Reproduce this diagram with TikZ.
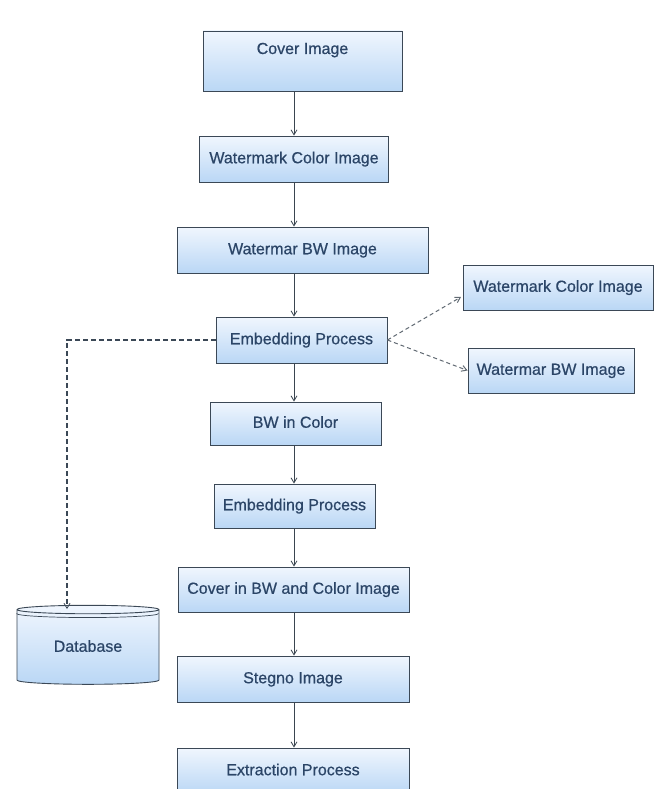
\documentclass[tikz,border=0pt]{standalone}
\usepackage{fontspec}
\setmainfont{Liberation Sans}
\newfontfamily\scritta[FakeBold=0.6]{Liberation Sans}
\usetikzlibrary{arrows.meta,shapes.geometric}
\definecolor{bordo}{HTML}{3B4856}
\definecolor{testo}{HTML}{2B4567}
\definecolor{cima}{HTML}{F0F6FE}
\definecolor{fondo}{HTML}{BAD7F5}
\definecolor{freccia}{HTML}{3A4550}
\tikzset{
  blocco/.style={draw=bordo, line width=0.9pt, top color=cima, bottom color=fondo,
    text=testo, font=\scritta\fontsize{16}{18}\selectfont, inner xsep=1pt, inner ysep=0pt,
    text height=11.5pt, text depth=3pt},
  flusso/.style={draw=freccia, line width=0.8pt, -{Straight Barb[length=5pt,width=6pt]}},
  tratto/.style={draw=bordo, line width=1.6pt, dash pattern=on 5pt off 3pt,
    -{Straight Barb[length=5pt,width=6pt,line width=0.8pt]}},
  trattino/.style={draw=freccia!80, line width=1pt, dash pattern=on 4pt off 3pt,
    -{Straight Barb[length=5pt,width=6pt]}}
}
\begin{document}
\begin{tikzpicture}[x=1pt,y=-1pt]
        \useasboundingbox[fill=white] (0,0) rectangle (657,789);
        %colonna centrale
        \node[blocco, minimum width=199pt, minimum height=60pt, text height=19pt, text depth=33pt] (cover) at (302.5,61) {Cover Image};
        \node[blocco, minimum width=189pt, minimum height=46pt] (wmcolor) at (294,159) {Watermark Color Image};
        \node[blocco, minimum width=251pt, minimum height=46pt] (wmbw) at (302.5,250) {Watermar BW Image};
        \node[blocco, minimum width=171pt, minimum height=46pt] (embed) at (301.5,340) {Embedding Process};
        \node[blocco, minimum width=171pt, minimum height=43pt] (bwcolor) at (295.5,423.5) {BW in Color};
        \node[blocco, minimum width=161pt, minimum height=44pt] (embedb) at (294.5,506) {Embedding Process};
        \node[blocco, minimum width=231pt, minimum height=45pt] (coverbw) at (293.5,589.5) {Cover in BW and Color Image};
        \node[blocco, minimum width=232pt, minimum height=46pt] (stegno) at (293,679) {Stegno Image};
        \node[blocco, minimum width=232pt, minimum height=46pt] (extract) at (293,771) {Extraction Process};
        %blocchi a destra
        \node[blocco, minimum width=190pt, minimum height=45pt] (wmcolorr) at (558,287.5) {Watermark Color Image};
        \node[blocco, minimum width=166pt, minimum height=45pt] (wmbwr) at (551,370.5) {Watermar BW Image};
        %database
        \node[blocco, cylinder, shape border rotate=90, aspect=0.12, minimum width=142pt, minimum height=79pt,
          text height=11.5pt, text depth=3pt] (db) at (88,647.5) {Database};
        \draw[bordo, line width=0.7pt] ([yshift=-4pt]db.west |- db.before top) arc[start angle=180, end angle=360, x radius=71pt, y radius=4pt];
        %frecce
        \coordinate (asse) at (294,0);
        \draw[flusso] (cover.south -| asse) -- (wmcolor.north -| asse);
        \draw[flusso] (wmcolor.south -| asse) -- (wmbw.north -| asse);
        \draw[flusso] (wmbw.south -| asse) -- (embed.north -| asse);
        \draw[flusso] (embed.south -| asse) -- (bwcolor.north -| asse);
        \draw[flusso] (bwcolor.south -| asse) -- (embedb.north -| asse);
        \draw[flusso] (embedb.south -| asse) -- (coverbw.north -| asse);
        \draw[flusso] (coverbw.south -| asse) -- (stegno.north -| asse);
        \draw[flusso] (stegno.south -| asse) -- (extract.north -| asse);
        %tratteggi
        \coordinate (dbin) at (67,609);
        \draw[tratto] (embed.west) -| (dbin);
        \coordinate (wmin) at (461,297);
        \draw[trattino] (embed.east) -- (wmin);
        \draw[trattino] (embed.east) -- (wmbwr.west);
\end{tikzpicture}
\end{document}
